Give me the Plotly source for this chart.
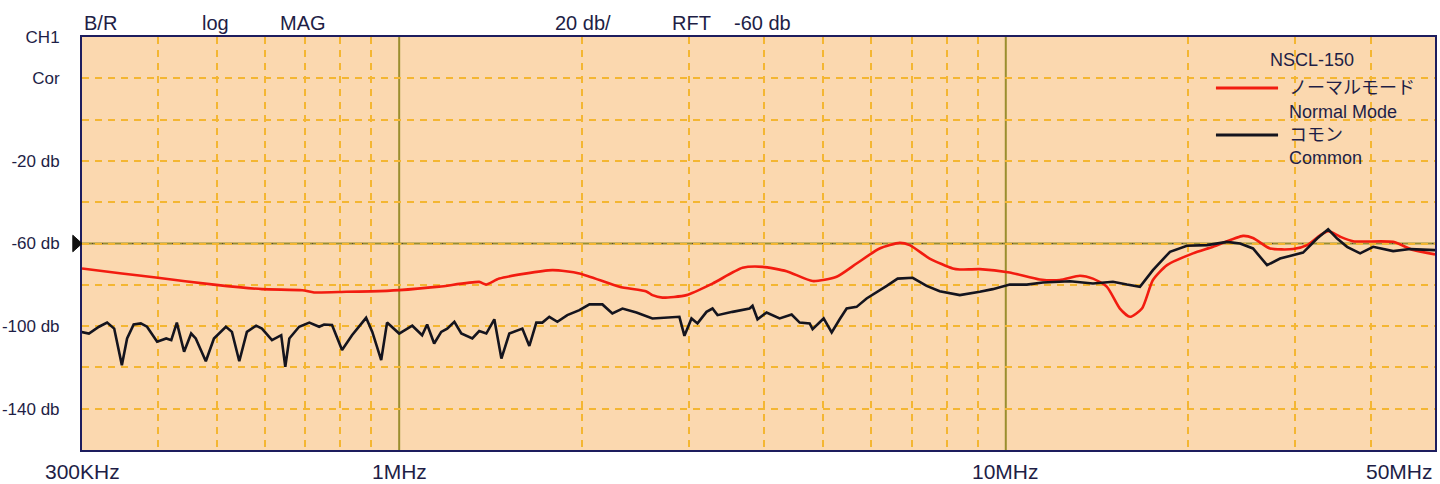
import math
import plotly.graph_objects as go

# ---------------- data ----------------
normal_freq_mhz = [
    0.30, 0.349, 0.397, 0.495, 0.594, 0.692, 0.724, 0.818, 0.899, 1.0,
    1.164, 1.355, 1.392, 1.462, 1.788, 1.982, 2.307, 2.556, 2.615, 2.716,
    2.976, 3.285, 3.681, 3.972, 4.351, 4.803, 5.261, 5.676, 6.195, 6.686,
    6.944, 7.49, 8.176, 8.398, 9.06, 10.15, 11.38, 12.28, 13.25, 13.92,
    14.68, 15.42, 16.02, 16.77, 17.48, 18.44, 20.35, 21.96, 24.61, 25.56,
    27.27, 29.76, 31.38, 32.97, 34.0, 35.58, 37.38, 43.51, 46.95, 51.0,
]
normal_db = [
    -72.1, -74.5, -76.5, -79.9, -82.1, -82.6, -83.7, -83.4, -83.2, -82.6,
    -80.9, -78.6, -79.9, -77.0, -72.9, -74.5, -80.9, -83.2, -85.0, -86.2,
    -85.0, -79.4, -71.8, -71.3, -73.4, -78.2, -76.1, -69.7, -62.4, -59.7,
    -60.8, -67.3, -72.1, -72.6, -72.4, -74.0, -77.4, -77.7, -75.6, -77.0,
    -81.0, -91.5, -95.5, -91.5, -77.7, -70.5, -64.8, -61.6, -56.3, -57.3,
    -62.4, -62.7, -60.8, -56.0, -54.0, -56.7, -58.9, -59.2, -63.2, -65.3,
]

common_freq_mhz = [
    0.299, 0.308, 0.320, 0.330, 0.339, 0.349, 0.356, 0.365, 0.375, 0.384,
    0.399, 0.413, 0.421, 0.430, 0.442, 0.454, 0.462, 0.480, 0.495, 0.518,
    0.530, 0.545, 0.561, 0.581, 0.594, 0.617, 0.639, 0.649, 0.659, 0.684,
    0.711, 0.738, 0.752, 0.775, 0.805, 0.836, 0.882, 0.903, 0.934, 0.955,
    1.0, 1.051, 1.091, 1.112, 1.142, 1.173, 1.200, 1.233, 1.266, 1.320,
    1.355, 1.392, 1.435, 1.474, 1.519, 1.596, 1.639, 1.683, 1.722, 1.768,
    1.823, 1.893, 1.982, 2.059, 2.163, 2.246, 2.334, 2.461, 2.615, 2.758,
    2.897, 2.953, 3.033, 3.103, 3.211, 3.285, 3.348, 3.544, 3.781, 3.824,
    3.897, 4.033, 4.238, 4.436, 4.573, 4.750, 4.803, 5.009, 5.164, 5.323,
    5.466, 5.676, 5.896, 6.364, 6.633, 7.023, 7.405, 7.781, 8.398, 9.06,
    9.517, 10.15, 10.83, 11.51, 12.76, 13.92, 15.02, 15.84, 16.64, 17.48,
    18.65, 19.89, 21.46, 23.15, 24.33, 25.56, 26.25, 26.96, 28.32, 30.91,
    32.6, 34.0, 35.17, 36.53, 38.38, 40.33, 43.51, 46.42, 51.0,
]
common_db = [
    -102.8, -103.6, -100.3, -98.3, -101.2, -118.9, -106.0, -99.2, -98.7, -100.3,
    -107.6, -106.0, -106.8, -98.3, -112.4, -103.6, -106.0, -117.0, -106.0, -100.3,
    -102.8, -117.0, -102.8, -99.8, -101.2, -106.8, -104.4, -119.7, -106.0, -100.3,
    -98.3, -100.3, -99.2, -99.5, -111.6, -104.4, -96.0, -102.8, -116.5, -98.3,
    -103.6, -99.8, -104.4, -99.2, -108.4, -102.8, -101.2, -97.9, -103.6, -106.0,
    -102.4, -103.6, -96.7, -115.7, -103.6, -101.2, -109.6, -98.3, -98.3, -95.5,
    -97.9, -94.7, -92.3, -89.5, -89.5, -93.9, -91.5, -93.4, -96.3, -96.0,
    -95.5, -104.7, -96.3, -98.7, -93.1, -91.5, -94.7, -93.1, -91.5, -90.2,
    -96.7, -93.4, -96.3, -94.4, -98.3, -98.7, -101.5, -96.3, -103.1, -96.7,
    -91.5, -90.7, -86.6, -80.5, -77.0, -76.6, -80.5, -83.1, -85.0, -83.4,
    -82.1, -79.9, -79.9, -78.9, -78.3, -79.4, -78.5, -79.9, -81.0, -72.9,
    -64.0, -61.1, -60.8, -59.2, -60.0, -62.4, -66.4, -70.5, -67.3, -64.4,
    -57.6, -53.1, -57.6, -61.6, -64.8, -61.6, -63.7, -62.7, -63.2,
]

# axis configuration
x_min_mhz = 0.3
x_max_mhz = 51.0
y_min_db = -160
y_max_db = 40
ref_level_db = -60
x_grid_mhz = [0.4, 0.5, 0.6, 0.7, 0.8, 0.9, 2, 3, 4, 5, 6, 7, 8, 9, 20, 30, 40]
x_major_mhz = [1, 10]
x_tick_vals = [0.3, 1, 10, 51.0]
x_tick_text = ["300KHz", "1MHz", "10MHz", "50MHz"]
y_tick_vals = [40, 20, 0, -20, -40, -60, -80, -100, -120, -140]
y_tick_text = ["CH1", "Cor", "", "-20 db", "", "-60 db", "", "-100 db", "", "-140 db"]
header_texts = ["B/R", "log", "MAG", "20 db/", "RFT", "-60 db"]
header_pos = [0.0, 0.0872, 0.1449, 0.3481, 0.4346, 0.4804]

# ---------------- style ----------------
BG = "#FBD8AF"
GRID = "#F4B632"
OLIVE = "#9A8E2E"
BORDER = "#1D1D5E"
TEXT = "#1E1E46"
RED = "#F21C10"
BLACK = "#14141E"
FONT = "Liberation Sans, Arial, Helvetica, sans-serif"

fig = go.Figure()
fig.add_trace(go.Scatter(x=normal_freq_mhz, y=normal_db, mode="lines",
                         line=dict(color=RED, width=2.6, shape="spline", smoothing=0.6),
                         name="Normal Mode", showlegend=False))
fig.add_trace(go.Scatter(x=common_freq_mhz, y=common_db, mode="lines",
                         line=dict(color=BLACK, width=2.6), name="Common",
                         showlegend=False))

shapes = []
for xv in x_major_mhz:
    shapes.append(dict(type="line", xref="x", yref="paper", x0=xv, x1=xv, y0=0, y1=1,
                       line=dict(color=OLIVE, width=2), layer="between"))
shapes.append(dict(type="line", xref="paper", yref="y", x0=0, x1=1,
                   y0=ref_level_db, y1=ref_level_db,
                   line=dict(color=OLIVE, width=2), layer="between"))
shapes.append(dict(type="line", xref="paper", yref="y", x0=0, x1=1,
                   y0=ref_level_db, y1=ref_level_db,
                   line=dict(color="#5A3C3C", width=1, dash="1px,9px"), layer="between"))
# reference level marker (triangle at left edge)
shapes.append(dict(type="path", xref="paper", yref="y",
                   path=f"M -0.0068,{ref_level_db+4} L 0,{ref_level_db} L -0.0068,{ref_level_db-4} Z",
                   fillcolor="#111111", line=dict(color="#111111", width=1), layer="above"))
# legend sample lines
shapes.append(dict(type="line", xref="paper", yref="paper", x0=0.8381, x1=0.884,
                   y0=0.8765, y1=0.8765, line=dict(color=RED, width=3)))
shapes.append(dict(type="line", xref="paper", yref="paper", x0=0.8381, x1=0.884,
                   y0=0.7627, y1=0.7627, line=dict(color=BLACK, width=3)))

annotations = []
for t, xp in zip(header_texts, header_pos):
    annotations.append(dict(text=t, xref="paper", yref="paper", x=xp, y=1.034,
                            xanchor="left", yanchor="middle", showarrow=False,
                            font=dict(size=20, color=TEXT, family=FONT)))
for xv, t in zip(x_tick_vals, x_tick_text):
    annotations.append(dict(text=t, xref="x", yref="paper", x=math.log10(xv), y=-0.051,
                            xanchor="right" if xv == x_tick_vals[-1] else "center",
                            yanchor="middle", showarrow=False,
                            font=dict(size=21, color=TEXT, family=FONT)))
annotations.append(dict(text="NSCL-150", xref="paper", yref="paper", x=0.909, y=0.944,
                        xanchor="center", yanchor="middle", showarrow=False,
                        font=dict(size=18, color=TEXT, family=FONT)))
legend_items = [("ノーマルモード", 0.8765), ("Normal Mode", 0.8184),
                ("コモン", 0.7627), ("Common", 0.707)]
for t, yp in legend_items:
    annotations.append(dict(text=t, xref="paper", yref="paper", x=0.8906, y=yp,
                            xanchor="left", yanchor="middle", showarrow=False,
                            font=dict(size=18, color=TEXT,
                                      family="Liberation Sans, Noto Sans CJK JP, sans-serif")))

fig.update_layout(
    width=1440, height=484,
    margin=dict(l=82, r=5, t=37, b=34, autoexpand=False),
    paper_bgcolor="white", plot_bgcolor=BG,
    xaxis=dict(type="log", range=[math.log10(x_min_mhz), math.log10(x_max_mhz)],
               tickvals=x_grid_mhz, showticklabels=False, ticks="", automargin=False,
               showgrid=True, gridcolor=GRID, gridwidth=1.5, griddash="7px,6px",
               showline=True, mirror=True, linecolor=BORDER, linewidth=2,
               zeroline=False),
    yaxis=dict(range=[y_min_db, y_max_db], tickvals=y_tick_vals, ticktext=y_tick_text,
               ticks="outside", ticklen=17, tickcolor="rgba(0,0,0,0)", automargin=False,
               tickfont=dict(size=17, color=TEXT, family=FONT),
               showgrid=True, gridcolor=GRID, gridwidth=1.5, griddash="7px,6px",
               showline=True, mirror=True, linecolor=BORDER, linewidth=2,
               zeroline=False),
    shapes=shapes, annotations=annotations, showlegend=False,
)

fig.write_html("out.html", config={"displayModeBar": False},
               post_script="document.body.style.margin='0';document.body.style.overflow='hidden';")
